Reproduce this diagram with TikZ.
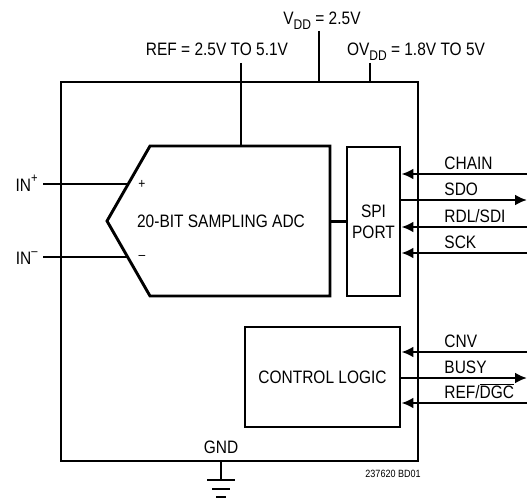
\documentclass[tikz,border=0pt]{standalone}
\usepackage{fontspec}
\setmainfont[FakeStretch=0.86]{Liberation Sans}
\usetikzlibrary{arrows.meta}
\newcommand{\lowsub}[1]{\raisebox{-0.25em}{\fontsize{14}{14}\selectfont #1}}
\newcommand{\highsup}[1]{\raisebox{0.45em}{\fontsize{13}{13}\selectfont #1}}

\begin{document}
\begin{tikzpicture}[x=1pt,y=-1pt,line width=2.9pt,>={Latex[length=12pt,width=11pt]},
  txt/.style={font=\fontsize{18}{20}\selectfont,inner sep=0pt},
  blk/.style={draw,line width=2.9pt,inner sep=0pt,align=center,font=\fontsize{18}{21}\selectfont}]
\useasboundingbox (0,0) rectangle (527,500);

% package outline
\node[draw,minimum width=357pt,minimum height=379pt] (chip) at (239.5,271.5) {};

% supplies
\coordinate (vdd) at (319,31);
\coordinate (ovdd) at (370,63);
\coordinate (ref) at (241,63);
\draw (vdd)--(vdd |- chip.north);
\draw (ovdd)--(ovdd |- chip.north);
\node[txt,anchor=base] at (322,25) {V\lowsub{DD} = 2.5V};
\node[txt,anchor=base] at (217,56) {REF = 2.5V TO 5.1V};
\node[txt,anchor=base] at (416,56) {OV\lowsub{DD} = 1.8V TO 5V};

% ADC
\coordinate (adcnw) at (150,146);
\coordinate (adcne) at (330,146);
\coordinate (adcse) at (330,296);
\coordinate (adcsw) at (150,296);
\coordinate (adctip) at (107,221);
\draw (adcnw)--(adcne)--(adcse)--(adcsw)--(adctip)--cycle;
\node[txt] (adc) at (221,221) {20-BIT SAMPLING ADC};
\draw (ref)--(ref |- adcnw);

% analog inputs
\coordinate (inpa) at (43,184);
\coordinate (inpb) at (128,184);
\coordinate (inma) at (43,257);
\coordinate (inmb) at (128,257);
\draw (inpa)--(inpb);
\draw (inma)--(inmb);
\node[txt,anchor=base east] (inp) at (39,191) {IN\highsup{+}};
\node[txt,anchor=base east] (inm) at (39,264) {IN\highsup{\textendash}};
\node[inner sep=0pt,font=\fontsize{14}{14}\selectfont] at (142,184) {+};
\node[inner sep=0pt,font=\fontsize{14}{14}\selectfont] at (142,257) {\textendash};

% SPI port
\node[blk,minimum width=53pt,minimum height=149pt] (spi) at (373.5,221.5) {SPI\\PORT};
\draw (adcne |- spi.west)--(spi.west);

\foreach \y/\name in {174/CHAIN,227/{RDL/SDI},253/SCK}
{
    \coordinate (s) at (527,\y);
    \draw[<-] (spi.east |- s)--(s);
    \node[txt,anchor=base west] at (443,\y-5) {\name};
}
\coordinate (sdo) at (527,200);
\draw[->] (spi.east |- sdo)--(sdo);
\node[txt,anchor=base west] at (443,195) {SDO};

% control logic
\node[blk,minimum width=155pt,minimum height=100pt] (ctl) at (322.5,377) {CONTROL LOGIC};
\foreach \y/\name in {352/CNV,403/{REF/$\overline{\mbox{DGC}}$}}
{
    \coordinate (c) at (527,\y);
    \draw[<-] (ctl.east |- c)--(c);
    \node[txt,anchor=base west] at (443,\y-5) {\name};
}
\coordinate (busy) at (527,378);
\draw[->] (ctl.east |- busy)--(busy);
\node[txt,anchor=base west] at (443,373) {BUSY};

% ground
\coordinate (gnd) at (221,480);
\draw (gnd |- chip.south)--(gnd);
\draw (207,480)--(235,480);
\draw (212,489)--(230,489);
\draw (216,497)--(226,497);
\node[txt,anchor=base] at (221,453) {GND};

\node[inner sep=0pt,anchor=base west,font=\fontsize{10.5}{12}\selectfont] at (364,477) {237620 BD01};
\end{tikzpicture}
\end{document}
